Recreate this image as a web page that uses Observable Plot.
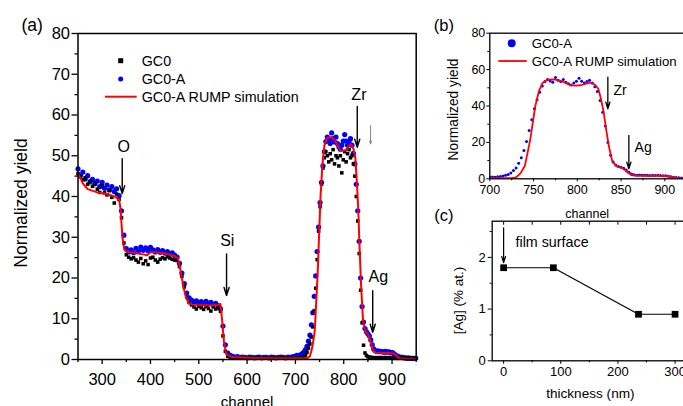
<!DOCTYPE html>
<html><head><meta charset="utf-8">
<script src="https://cdn.jsdelivr.net/npm/d3@7"></script>
<script src="https://cdn.jsdelivr.net/npm/@observablehq/plot@0.6"></script>
<style>
body{margin:0;background:#fff;}
#wrap{position:relative;width:683px;height:406px;overflow:hidden;background:#fff;}
#wrap > svg{position:absolute;max-width:none;background:transparent;overflow:visible;}
</style></head><body><div id="wrap"></div>
<script>
// ---------- panel (a) / (b) spectra ----------
const chLow = d3.range(250, 700, 5);
const gc0aLow = [46.8,45.2,46.0,44.3,45.1,43.6,44.2,43.1,43.8,42.4,43.5,42.0,42.8,41.6,42.4,41.2,41.9,40.2,36.5,30.5,
27.2,26.4,26.9,26.2,27.3,26.6,27.6,26.8,27.4,26.7,27.5,26.9,26.4,27.0,26.3,26.7,26.1,26.5,25.9,26.2,
25.6,25.1,23.6,21.2,18.6,16.3,15.1,14.6,14.1,14.4,13.7,14.2,13.8,14.3,13.6,14.0,13.5,13.8,13.2,12.4,
8.2,3.6,1.6,1.0,0.8,0.6,0.7,0.5,0.6,0.5,0.4,0.6,0.5,0.4,0.5,0.6,0.4,0.5,0.5,0.4,
0.6,0.5,0.4,0.5,0.6,0.5,0.4,0.6,0.5,0.7];
const gc0Low = [45.6,44.8,44.1,44.6,43.0,43.7,42.5,43.2,41.8,41.0,42.6,40.9,40.4,41.5,39.8,38.4,40.6,39.3,34.8,28.6,
25.7,25.1,24.7,25.0,24.4,23.9,24.8,23.5,24.2,23.3,24.9,25.1,24.4,23.9,24.6,25.0,24.7,25.2,24.9,24.6,
24.4,24.3,22.8,20.4,17.8,15.4,14.0,13.4,12.9,12.4,13.1,12.7,12.3,13.0,12.5,11.9,12.9,12.4,12.7,11.8,
5.8,2.0,0.8,0.5,0.4,0.3,0.4,0.3,0.3,0.4,0.3,0.3,0.4,0.3,0.3,0.4,0.3,0.3,0.4,0.3,
0.3,0.4,0.3,0.3,0.4,0.3,0.3,0.4,0.3,0.3];
const chHigh = d3.range(700, 950, 3);
const gc0aHigh = [0.8,1.0,0.9,1.1,1.2,1.5,1.9,2.4,3.2,4.5,
6.0,8.5,11.5,15.5,20.5,26.5,32.5,38.5,43.5,47.5,
51.0,53.5,54.6,53.8,53.0,55.6,54.2,53.4,54.6,53.0,
52.2,51.6,52.6,53.6,55.2,53.6,52.6,53.4,54.2,52.6,
50.6,48.0,43.0,36.5,29.0,20.0,13.0,9.2,7.6,6.8,
6.3,5.8,4.8,3.6,2.6,2.2,2.0,2.1,1.9,2.0,
1.9,1.8,2.0,1.8,1.9,1.8,1.7,1.7,1.4,1.1,
0.9,0.7,0.6,0.5,0.5,0.4,0.4,0.3,0.4,0.3,
0.3,0.3,0.3,0.3];
const gc0High = [0.3,0.3,0.4,0.3,0.4,0.5,0.7,1.0,1.8,2.8,
3.8,5.5,8.0,12.0,17.5,24.5,31.5,37.5,43.0,47.0,
49.5,51.0,50.0,48.5,50.5,49.0,51.5,48.0,50.0,49.5,
47.5,50.0,45.8,49.0,51.0,48.5,50.5,51.5,49.5,50.0,
48.0,45.0,40.0,34.0,26.0,17.0,9.0,3.5,1.6,1.0,
0.7,0.6,0.5,0.5,0.4,0.4,0.5,0.4,0.4,0.5,
0.4,0.4,0.5,0.4,0.4,0.5,0.4,0.4,0.3,0.3,
0.3,0.3,0.3,0.3,0.3,0.3,0.3,0.3,0.3,0.3,
0.3,0.3,0.3,0.3];
const simCh = [250,255,260,270,290,310,325,335,338,342,346,350,370,385,393,400,410,430,450,457,
462,468,474,480,490,510,530,540,545,548,552,556,560,570,600,650,700,715,725,730,
735,740,746,752,756,760,765,770,775,780,786,792,798,804,810,815,820,824,827,830,
833,836,840,845,850,854,858,862,866,880,895,905,910,915,930,950];
const simYield = [45.5,44.5,43.2,41.8,41.0,40.6,40.0,39.3,37.0,30.0,27.0,26.5,26.1,25.8,25.6,26.3,26.3,26.0,25.4,24.8,
22.0,18.0,15.0,13.7,13.4,13.3,13.3,13.4,13.6,10.0,4.5,1.8,1.0,0.6,0.4,0.3,0.3,0.3,0.3,0.8,
3.0,7.0,21.0,40.0,48.0,52.5,54.2,54.6,54.5,54.0,52.8,51.5,51.2,51.4,52.3,52.8,51.8,49.5,44.0,37.0,
27.0,18.0,9.5,6.8,6.2,5.0,3.3,2.0,1.7,1.6,1.6,1.4,0.8,0.3,0.2,0.2];

// ---------- panel (c) ----------
const thickness = [0, 87, 236, 300];
const agConc = [1.8, 1.8, 0.9, 0.9];

// ---------- ticks ----------
const xTicksA = [300,400,500,600,700,800,900];
const xMinorA = [250,350,450,550,650,750,850,950];
const yTicksA = [0,10,20,30,40,50,60,70,80];
const yMinorA = [5,15,25,35,45,55,65,75];
const xTicksB = [700,750,800,850,900];
const xMinorB = [725,775,825,875,925];
const yTicksB = [0,20,40,60,80];
const yMinorB = [10,30,50,70];
const xTicksC = [0,100,200,300];
const xMinorC = [50,150,250];
const yTicksC = [0,1,2];
const yMinorC = [0.5,1.5,2.5];

// ---------- annotations ----------
const arrA = {ch:[341.5,557.5,828,860], top:[49.3,25.9,62.1,16.9], tip:[40.7,15.7,52.1,6.7]};
const arrAsmall = {ch:[855.6], top:[57.4], tip:[52.9]};
const labA = {text:["O","Si","Zr","Ag"], ch:[344.8,558.9,831.4,871.5], y:[52.1,29.2,65,20.2]};
const arrB = {ch:[834.9,858.9], top:[55.8,23.8], tip:[38.5,5.5]};
const labB = {text:["Zr","Ag"], ch:[841.4,865.4], y:[48.5,17.4]};
const arrC = {x:[0], top:[2.57], tip:[1.9]};
const labC = {text:["film surface"], x:[20.8], y:[2.28]};

// build tables
const zip = (xs, ys) => xs.map((x, i) => ({x, y: ys[i]}));
const blue = zip(chLow, gc0aLow).concat(zip(chHigh, gc0aHigh));
const black = zip(chLow, gc0Low).concat(zip(chHigh, gc0High));
const sim = zip(simCh, simYield);
const toArr = o => (o.ch || o.x).map((c,i)=>({x:c, top:o.top[i], tip:o.tip[i]}));
const toLab = o => o.text.map((t,i)=>({t, x:(o.ch||o.x)[i], y:o.y[i]}));

const FONT = '"Liberation Sans", Arial, sans-serif';
const BLUE = "#0000ff", RED = "#ff0000";
const wrap = document.getElementById("wrap");
function place(svg, left, top){ svg.style.left = left+"px"; svg.style.top = top+"px"; wrap.appendChild(svg); }

// ---------- (a) ----------
const pa = Plot.plot({
  width: 430, height: 406,
  marginLeft: 77.5, marginRight: 14.3, marginTop: 33, marginBottom: 47,
  x: {domain: [250, 950]}, y: {domain: [0, 80]},
  style: {fontFamily: FONT, fontSize: "16.5px", background: "transparent", color: "#000"},
  marks: [
    Plot.axisX({ticks: xTicksA, tickSize: 5, tickPadding: 9, label: null, strokeWidth: 1.3}),
    Plot.axisX({ticks: xMinorA, tickSize: 3, text: null, label: null, strokeWidth: 1.3}),
    Plot.axisY({ticks: yTicksA, tickSize: 6, tickPadding: 2, label: null, strokeWidth: 1.3}),
    Plot.axisY({ticks: yMinorA, tickSize: 3, text: null, label: null, strokeWidth: 1.3}),
    Plot.dot(blue, {x: "x", y: "y", r: 2.6, fill: BLUE}),
    Plot.dot(black, {x: "x", y: "y", r: 2, symbol: "square", fill: "#000"}),
    Plot.line(sim, {x: "x", y: "y", stroke: RED, strokeWidth: 2}),
    Plot.arrow(toArr(arrA), {x1: "x", x2: "x", y1: "top", y2: "tip", stroke: "#000", strokeWidth: 1.4, headLength: 9, headAngle: 35}),
    Plot.arrow(toArr(arrAsmall), {x1: "x", x2: "x", y1: "top", y2: "tip", stroke: "#777", strokeWidth: 0.9, headLength: 5, headAngle: 35}),
    Plot.text(toLab(labA), {x: "x", y: "y", text: "t", fontSize: 16}),
    Plot.text(["Normalized yield"], {frameAnchor: "left", dx: -57, dy: 6.5, rotate: -90, textAnchor: "middle", lineAnchor: "middle", fontSize: 17.5}),
    Plot.text(["channel"], {frameAnchor: "bottom", dx: 0, dy: 43, textAnchor: "middle", lineAnchor: "middle", fontSize: 15}),
    Plot.text(["(a)"], {frameAnchor: "top-left", dx: -45.8, dy: -8, textAnchor: "middle", lineAnchor: "middle", fontSize: 17.5}),
    Plot.frame({stroke: "#000", strokeWidth: 1.5})
  ]
});
place(pa, 0, 0);

// ---------- (b) ----------
const pb = Plot.plot({
  width: 260, height: 222,
  marginLeft: 59.3, marginRight: 3.8, marginTop: 32.7, marginBottom: 43.7,
  x: {domain: [700, 925]}, y: {domain: [0, 80]},
  style: {fontFamily: FONT, fontSize: "12.5px", background: "transparent", color: "#000"},
  marks: [
    Plot.axisX({ticks: xTicksB, tickSize: 3, tickPadding: 3, label: null}),
    Plot.axisX({ticks: xMinorB, tickSize: 2, text: null, label: null}),
    Plot.axisY({ticks: yTicksB, tickSize: 3, tickPadding: 1.5, label: null}),
    Plot.axisY({ticks: yMinorB, tickSize: 2, text: null, label: null}),
    Plot.dot(zip(chHigh, gc0aHigh), {x: "x", y: "y", r: 1.5, fill: BLUE, clip: true}),
    Plot.line(sim.filter(d => d.x >= 700), {x: "x", y: "y", stroke: RED, strokeWidth: 1.8, clip: true}),
    Plot.arrow(toArr(arrB), {x1: "x", x2: "x", y1: "top", y2: "tip", stroke: "#000", strokeWidth: 1.3, headLength: 8, headAngle: 35}),
    Plot.text(toLab(labB), {x: "x", y: "y", text: "t", textAnchor: "start", fontSize: 14}),
    Plot.text(["Normalized yield"], {frameAnchor: "left", dx: -35.8, dy: 3.5, rotate: -90, textAnchor: "middle", lineAnchor: "middle", fontSize: 13.8}),
    Plot.text(["channel"], {frameAnchor: "bottom", dx: -1, dy: 35, textAnchor: "middle", lineAnchor: "middle", fontSize: 12.5}),
    Plot.text(["(b)"], {frameAnchor: "top-left", dx: -46, dy: -7.7, textAnchor: "middle", lineAnchor: "middle", fontSize: 16.5}),
    Plot.frame({stroke: "#000", strokeWidth: 1.3})
  ]
});
place(pb, 430, 0);

// ---------- (c) ----------
const pc = Plot.plot({
  width: 260, height: 206,
  marginLeft: 61.7, marginRight: 4, marginTop: 20.7, marginBottom: 45.7,
  x: {domain: [-20, 320]}, y: {domain: [0, 2.7]},
  style: {fontFamily: FONT, fontSize: "13px", background: "transparent", color: "#000"},
  marks: [
    Plot.axisX({ticks: xTicksC, tickSize: 3.5, tickPadding: 2, label: null, tickFormat: d3.format("d")}),
    Plot.axisX({ticks: xMinorC, tickSize: 2, text: null, label: null}),
    Plot.axisX({anchor: "top", ticks: xTicksC.concat(xMinorC), tickSize: -3, text: null, label: null}),
    Plot.axisY({ticks: yTicksC, tickSize: 4, tickPadding: 2.5, label: null, tickFormat: d3.format("d")}),
    Plot.axisY({ticks: yMinorC, tickSize: 2, text: null, label: null}),
    Plot.line(zip(thickness, agConc), {x: "x", y: "y", stroke: "#000", strokeWidth: 1.2}),
    Plot.dot(zip(thickness, agConc), {x: "x", y: "y", r: 3.8, symbol: "square", fill: "#000"}),
    Plot.arrow(toArr(arrC), {x1: "x", x2: "x", y1: "top", y2: "tip", stroke: "#000", strokeWidth: 1.2, headLength: 8, headAngle: 35}),
    Plot.text(toLab(labC), {x: "x", y: "y", text: "t", textAnchor: "start", fontSize: 14.3}),
    Plot.text(["[Ag] (% at.)"], {frameAnchor: "left", dx: -33.4, dy: 9.5, rotate: -90, textAnchor: "middle", lineAnchor: "middle", fontSize: 13.5}),
    Plot.text(["thickness (nm)"], {frameAnchor: "bottom", dx: 1, dy: 33, textAnchor: "middle", lineAnchor: "middle", fontSize: 13.6}),
    Plot.text(["(c)"], {frameAnchor: "top-left", dx: -48.4, dy: -5.7, textAnchor: "middle", lineAnchor: "middle", fontSize: 16.5}),
    Plot.frame({stroke: "#000", strokeWidth: 1.3})
  ]
});
place(pc, 430, 200);

// ---------- legends ----------
const leg = d3.create("svg").attr("width", 683).attr("height", 406)
  .style("left", "0px").style("top", "0px").style("font-family", FONT);
// (a)
leg.append("rect").attr("x", 118.2).attr("y", 58.2).attr("width", 5).attr("height", 5).attr("fill", "#000");
leg.append("circle").attr("cx", 120.7).attr("cy", 79).attr("r", 2.5).attr("fill", BLUE);
leg.append("line").attr("x1", 105).attr("x2", 136.7).attr("y1", 96.7).attr("y2", 96.7).attr("stroke", RED).attr("stroke-width", 2);
[["GC0", 61], ["GC0-A", 79], ["GC0-A RUMP simulation", 96.7]].forEach(([t, y]) =>
  leg.append("text").attr("x", 141.7).attr("y", y).attr("dy", "0.35em").attr("font-size", 14.3).text(t));
// (b)
leg.append("circle").attr("cx", 511.7).attr("cy", 43.3).attr("r", 4).attr("fill", BLUE);
leg.append("line").attr("x1", 498.3).attr("x2", 526.7).attr("y1", 61).attr("y2", 61).attr("stroke", RED).attr("stroke-width", 1.8);
[["GC0-A", 43.3], ["GC0-A RUMP simulation", 61]].forEach(([t, y]) =>
  leg.append("text").attr("x", 531.7).attr("y", y).attr("dy", "0.35em").attr("font-size", 13.2).text(t));
wrap.appendChild(leg.node());
</script></body></html>
